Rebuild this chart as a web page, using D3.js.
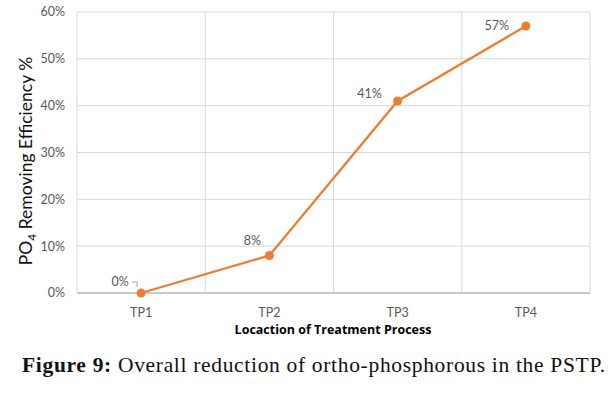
<!DOCTYPE html>
<html><head><meta charset="utf-8">
<script src="https://cdn.jsdelivr.net/npm/d3@7"></script>
<style>body{margin:0;background:#fff}svg{display:block}</style>
</head><body>
<svg id="c" width="611" height="396"></svg>
<script>
const categories = ["TP1","TP2","TP3","TP4"];
const values = [0, 0.08, 0.41, 0.57];
const valueLabels = ["0%","8%","41%","57%"];
const yTicks = [0,0.1,0.2,0.3,0.4,0.5,0.6];

const svg = d3.select("#c");
const m = {l:77, r:590, t:12, b:293};
const x = d3.scaleBand().domain(categories).range([m.l, m.r]);
const y = d3.scaleLinear().domain([0,0.6]).range([m.b, m.t]);
const grid = "#d9d9d9", txt = "#595959", orange = "#ED7D31";
const font = "Lato, 'Open Sans', sans-serif";

// horizontal grid
svg.append("g").selectAll("line").data(yTicks).join("line")
  .attr("x1", m.l).attr("x2", m.r).attr("y1", d=>y(d)).attr("y2", d=>y(d))
  .attr("stroke", grid).attr("stroke-width", 1);
// vertical grid at band boundaries
const bounds = categories.map(c=>x(c)).concat([m.r]);
svg.append("g").selectAll("line").data(bounds).join("line")
  .attr("x1", d=>d).attr("x2", d=>d).attr("y1", m.t).attr("y2", m.b)
  .attr("stroke", grid).attr("stroke-width", 1);
// bottom axis line
svg.append("line").attr("x1", m.l).attr("x2", m.r).attr("y1", y(0)).attr("y2", y(0))
  .attr("stroke", "#a6a6a6").attr("stroke-width", 1);

// y tick labels
svg.append("g").selectAll("text").data(yTicks).join("text")
  .attr("x", 65).attr("y", d=>y(d)).attr("dy", "0.35em").attr("text-anchor","end")
  .attr("font-family", font).attr("font-size", 12.5).attr("fill", txt)
  .text(d=>d3.format(".0%")(d));
// x tick labels
svg.append("g").selectAll("text").data(categories).join("text")
  .attr("x", d=>x(d)+x.bandwidth()/2).attr("y", 313).attr("dy","0.35em").attr("text-anchor","middle")
  .attr("font-family", font).attr("font-size", 12.5).attr("fill", txt)
  .text(d=>d);

// axis titles
svg.append("text").attr("x", 333).attr("y", 330).attr("dy","0.35em").attr("text-anchor","middle")
  .attr("font-family", "'Open Sans', sans-serif").attr("font-weight","bold").attr("font-size", 12.5).attr("fill","#000")
  .text("Locaction of Treatment Process");
const yt = svg.append("text").attr("transform","translate(32,161) rotate(-90)").attr("text-anchor","middle")
  .attr("font-family", font).attr("font-size", 17.5).attr("fill","#111");
yt.append("tspan").text("PO");
yt.append("tspan").attr("font-size", 12).attr("dy", 4).text("4");
yt.append("tspan").attr("dy", -4).text(" Removing Efficiency %");

// line
const cx = d=>x(d)+x.bandwidth()/2;
const pts = categories.map((c,i)=>({c, v:values[i], l:valueLabels[i]}));
svg.append("path").datum(pts)
  .attr("d", d3.line().x(d=>cx(d.c)).y(d=>y(d.v)))
  .attr("fill","none").attr("stroke", orange).attr("stroke-width", 2.25);
svg.append("g").selectAll("circle").data(pts).join("circle")
  .attr("cx", d=>cx(d.c)).attr("cy", d=>y(d.v)).attr("r", 4.5).attr("fill", orange);

// data labels
const off = [{dx:-21,dy:-11},{dx:-17,dy:-15},{dx:-28,dy:-7},{dx:-29,dy:0}];
svg.append("g").selectAll("text").data(pts).join("text")
  .attr("x", (d,i)=>cx(d.c)+off[i].dx).attr("y", (d,i)=>y(d.v)+off[i].dy).attr("dy","0.35em")
  .attr("text-anchor","middle")
  .attr("font-family", font).attr("font-size", 12.5).attr("fill", txt)
  .text(d=>d.l);
// leader line for 0%
const p0 = pts[0];
svg.append("path")
  .attr("d", `M${cx(p0.c)-9},${y(0)-11} L${cx(p0.c)-4},${y(0)-11} L${cx(p0.c)-4},${y(0)-6}`)
  .attr("fill","none").attr("stroke","#a6a6a6").attr("stroke-width",1);

// caption
const cap = svg.append("text").attr("x", 22).attr("y", 372).attr("text-anchor","start")
  .attr("textLength", 583).attr("lengthAdjust", "spacing")
  .attr("font-family", "'Liberation Serif', 'DejaVu Serif', serif").attr("font-size", 21.5).attr("fill","#111");
cap.append("tspan").attr("font-weight","bold").text("Figure 9:");
cap.append("tspan").text(" Overall reduction of ortho-phosphorous in the PSTP.");
</script>
</body></html>
